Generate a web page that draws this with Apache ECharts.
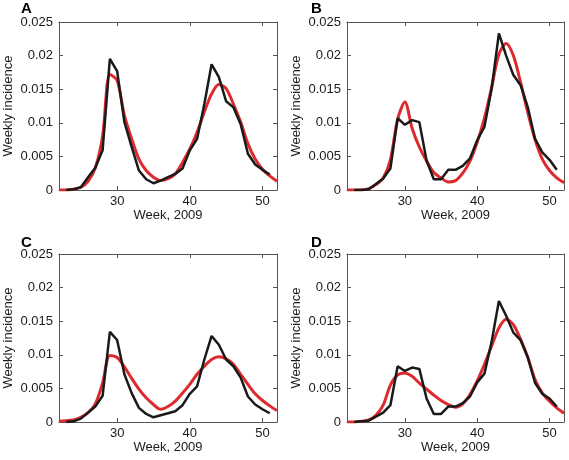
<!DOCTYPE html>
<html>
<head>
<meta charset="utf-8">
<script src="https://cdn.jsdelivr.net/npm/echarts@6/dist/echarts.min.js"></script>
<style>
html,body{margin:0;padding:0;background:#fff;}
#chart{width:569px;height:460px;}
</style>
</head>
<body>
<div id="chart"></div>
<script>
// Weeks
var weeksModel = [22,23,24,25,26,27,28,29,30,31,32,33,34,35,36,37,38,39,40,41,42,43,44,45,46,47,48,49,50,51,52];
var weeksObs = [23,24,25,26,27,28,29,30,31,32,33,34,35,36,37,38,39,40,41,42,43,44,45,46,47,48,49,50,51];
var xTickValues = [30, 40, 50];
var panelLabels = ['A', 'B', 'C', 'D'];

// Model (red) weekly incidence, weeks 22..52
var modelA = [0,0,0.0001,0.0004,0.0013,0.0033,0.0080,0.0172,0.0163,0.0111,0.0076,0.0046,0.0029,0.0019,0.0014,0.0017,0.0024,0.0041,0.0061,0.0086,0.0116,0.0143,0.0157,0.0151,0.0128,0.0101,0.0069,0.0046,0.0031,0.0021,0.0013];
var modelB = [0,0,0,0.0002,0.0008,0.0018,0.0045,0.0105,0.0131,0.0092,0.0064,0.0043,0.0026,0.0018,0.0012,0.0014,0.0025,0.0043,0.0071,0.0107,0.0153,0.0202,0.0218,0.0200,0.0160,0.0115,0.0075,0.0046,0.0029,0.0018,0.0011];
var modelC = [0.0001,0.0002,0.0003,0.0007,0.0014,0.0027,0.0058,0.0099,0.0096,0.0082,0.0065,0.0049,0.0036,0.0026,0.0019,0.0023,0.0031,0.0043,0.0056,0.0071,0.0083,0.0093,0.0097,0.0094,0.0086,0.0071,0.0056,0.0042,0.0032,0.0024,0.0017];
var modelD = [0,0,0.0001,0.0003,0.0010,0.0025,0.0055,0.0070,0.0073,0.0068,0.0058,0.0049,0.0040,0.0032,0.0026,0.0022,0.0027,0.0041,0.0061,0.0086,0.0113,0.0140,0.0153,0.0145,0.0123,0.0096,0.0063,0.0043,0.0031,0.0021,0.0013];

// Observed (black) weekly incidence, weeks 23..51
var obsA = [0,0.0001,0.0004,0.0019,0.0033,0.0059,0.0195,0.0177,0.0101,0.0064,0.0029,0.0016,0.0010,0.0014,0.0019,0.0024,0.0032,0.0059,0.0076,0.0128,0.0187,0.0168,0.0132,0.0123,0.0098,0.0054,0.0038,0.0030,0.0023];
var obsB = [0,0,0.0001,0.0009,0.0017,0.0032,0.0107,0.0097,0.0104,0.0101,0.0044,0.0016,0.0016,0.0030,0.0030,0.0036,0.0047,0.0074,0.0094,0.0151,0.0233,0.0200,0.0171,0.0156,0.0123,0.0076,0.0056,0.0045,0.0030];
var obsC = [0,0.0001,0.0005,0.0014,0.0023,0.0039,0.0134,0.0122,0.0071,0.0043,0.0021,0.0012,0.0007,0.0010,0.0013,0.0016,0.0025,0.0042,0.0053,0.0093,0.0128,0.0115,0.0093,0.0083,0.0066,0.0038,0.0026,0.0019,0.0013];
var obsD = [0,0.0001,0.0002,0.0008,0.0014,0.0025,0.0083,0.0076,0.0081,0.0079,0.0035,0.0012,0.0012,0.0023,0.0023,0.0028,0.0038,0.0059,0.0072,0.0120,0.0180,0.0158,0.0133,0.0122,0.0096,0.0058,0.0042,0.0035,0.0023];

var models = [modelA, modelB, modelC, modelD];
var obs = [obsA, obsB, obsC, obsD];

var FONT = "'Liberation Sans', Arial, Helvetica, sans-serif";
var AXIS_COLOR = '#555';
var TEXT_COLOR = '#1a1a1a';

var grids = [
  {left: 59, top: 22, width: 218, height: 168},
  {left: 347, top: 22, width: 217, height: 168},
  {left: 59, top: 254, width: 218, height: 168},
  {left: 347, top: 254, width: 217, height: 168}
];
var letterPos = [[21, 1], [311, 1], [21, 235], [311, 235]];

function zip(xs, ys) {
  var out = [];
  for (var i = 0; i < xs.length; i++) out.push([xs[i], ys[i]]);
  return out;
}

var xAxes = [], yAxes = [], series = [], graphics = [];
for (var g = 0; g < 4; g++) {
  xAxes.push({
    gridIndex: g, type: 'value', min: 22, max: 52, position: 'bottom',
    axisLine: {show: true, onZero: false, lineStyle: {color: AXIS_COLOR, width: 1}},
    axisTick: {show: true, inside: true, length: 4, customValues: xTickValues, lineStyle: {color: AXIS_COLOR}},
    axisLabel: {show: true, customValues: xTickValues, margin: 5, color: TEXT_COLOR, fontSize: 13, fontFamily: FONT},
    splitLine: {show: false},
    name: 'Week, 2009', nameLocation: 'middle', nameGap: 19,
    nameTextStyle: {color: TEXT_COLOR, fontSize: 13, fontFamily: FONT}
  });
  xAxes.push({
    gridIndex: g, type: 'value', min: 22, max: 52, position: 'top',
    axisLine: {show: true, onZero: false, lineStyle: {color: AXIS_COLOR, width: 1}},
    axisTick: {show: true, inside: true, length: 4, customValues: xTickValues, lineStyle: {color: AXIS_COLOR}},
    axisLabel: {show: false},
    splitLine: {show: false}
  });
  yAxes.push({
    gridIndex: g, type: 'value', min: 0, max: 0.025, interval: 0.005, position: 'left',
    axisLine: {show: true, onZero: false, lineStyle: {color: AXIS_COLOR, width: 1}},
    axisTick: {show: true, inside: true, length: 4, lineStyle: {color: AXIS_COLOR}},
    axisLabel: {show: true, margin: 6, color: TEXT_COLOR, fontSize: 13, fontFamily: FONT},
    splitLine: {show: false},
    name: 'Weekly incidence', nameLocation: 'middle', nameGap: 44,
    nameTextStyle: {color: TEXT_COLOR, fontSize: 13, fontFamily: FONT}
  });
  yAxes.push({
    gridIndex: g, type: 'value', min: 0, max: 0.025, interval: 0.005, position: 'right',
    axisLine: {show: true, onZero: false, lineStyle: {color: AXIS_COLOR, width: 1}},
    axisTick: {show: true, inside: true, length: 4, lineStyle: {color: AXIS_COLOR}},
    axisLabel: {show: false},
    splitLine: {show: false}
  });
  series.push({
    type: 'line', xAxisIndex: 2 * g, yAxisIndex: 2 * g,
    data: zip(weeksModel, models[g]),
    showSymbol: false, smooth: 0.3, clip: true,
    lineStyle: {color: '#dc2a2e', width: 3},
    z: 2
  });
  series.push({
    type: 'line', xAxisIndex: 2 * g, yAxisIndex: 2 * g,
    data: zip(weeksObs, obs[g]),
    showSymbol: false, smooth: false, clip: true,
    lineStyle: {color: '#1a1a1a', width: 2.5},
    z: 3
  });
  graphics.push({
    type: 'text', left: letterPos[g][0], top: letterPos[g][1],
    style: {text: panelLabels[g], fill: '#000', font: 'bold 15px ' + FONT}
  });
}

var chart = echarts.init(document.getElementById('chart'), null, {renderer: 'canvas'});
chart.setOption({
  animation: false,
  backgroundColor: '#fff',
  grid: grids.map(function (p) { return Object.assign({containLabel: false}, p); }),
  xAxis: xAxes,
  yAxis: yAxes,
  series: series,
  graphic: graphics
});
</script>
</body>
</html>
